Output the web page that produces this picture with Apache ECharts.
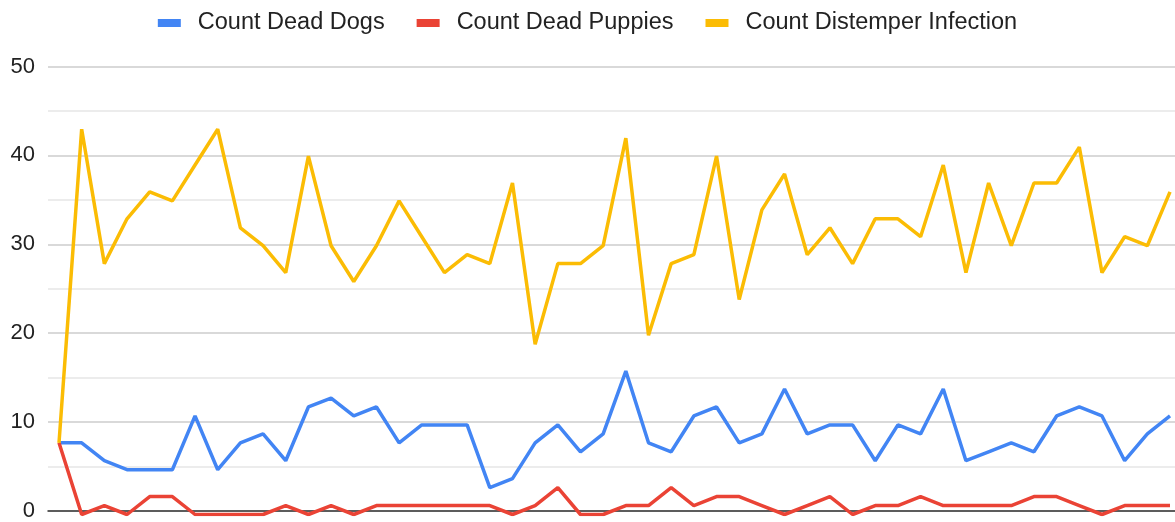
<!DOCTYPE html>
<html>
<head>
<meta charset="utf-8">
<script src="https://cdn.jsdelivr.net/npm/echarts@6/dist/echarts.min.js"></script>
<style>
html,body{margin:0;padding:0;background:#fff;}
#chart{width:1175px;height:522px;}
</style>
</head>
<body>
<div id="chart"></div>
<script>
const categories = ['1','2','3','4','5','6','7','8','9','10','11','12','13','14','15','16','17','18','19','20','21','22','23','24','25','26','27','28','29','30','31','32','33','34','35','36','37','38','39','40','41','42','43','44','45','46','47','48','49','50'];
const deadDogs = [8,8,6,5,5,5,11,5,8,9,6,12,13,11,12,8,10,10,10,3,4,8,10,7,9,16,8,7,11,12,8,9,14,9,10,10,6,10,9,14,6,7,8,7,11,12,11,6,9,11];
const deadPuppies = [8,0,1,0,2,2,0,0,0,0,1,0,1,0,1,1,1,1,1,1,0,1,3,0,0,1,1,3,1,2,2,1,0,1,2,0,1,1,2,1,1,1,1,2,2,1,0,1,1,1];
const distemper = [8,43,28,33,36,35,39,43,32,30,27,40,30,26,30,35,31,27,29,28,37,19,28,28,30,42,20,28,29,40,24,34,38,29,32,28,33,33,31,39,27,37,30,37,37,41,27,31,30,36];
const seriesNames = ['Count Dead Dogs','Count Dead Puppies','Count Distemper Infection'];
const seriesColors = ['#4285F4','#EA4335','#FBBC04'];
const yTicks = {min:0, max:50, interval:10};

const fontFam = "'Liberation Sans', Arial, sans-serif";
const chart = echarts.init(document.getElementById('chart'));
const dataSets = [deadDogs, deadPuppies, distemper];
chart.setOption({
  animation:false,
  color: seriesColors,
  legend:{
    top:6, left:'center',
    icon:'rect', itemWidth:23, itemHeight:8, itemGap:32,
    textStyle:{fontSize:23.5, color:'#222', fontFamily:fontFam, padding:[0,0,0,12]},
    data: seriesNames
  },
  grid:[
    {left:48, right:0, top:66.5, bottom:7.5},
    {left:59, right:5, top:66.5, bottom:7.5}
  ],
  xAxis:[
    {gridIndex:0, type:'value', min:0, max:1, axisLabel:{show:false}, axisTick:{show:false}, splitLine:{show:false},
     axisLine:{show:true, lineStyle:{color:'#333', width:1.5}}},
    {gridIndex:1, type:'category', data:categories, boundaryGap:false, show:false}
  ],
  yAxis:[
    {gridIndex:0, type:'value', min:yTicks.min, max:yTicks.max, interval:yTicks.interval,
     axisLine:{show:false}, axisTick:{show:false},
     axisLabel:{fontSize:22, color:'#222', fontFamily:fontFam, margin:13},
     splitLine:{show:true, lineStyle:{color:'#cccccc', width:1.5}},
     minorTick:{show:false, splitNumber:2},
     minorSplitLine:{show:true, lineStyle:{color:'#e6e6e6', width:1.5}}},
    {gridIndex:1, type:'value', min:yTicks.min, max:yTicks.max, show:false, splitLine:{show:false}}
  ],
  series: seriesNames.map((n,i)=>({
    name:n, type:'line', xAxisIndex:1, yAxisIndex:1,
    data:dataSets[i], symbol:'none', showSymbol:false,
    lineStyle:{width:3.5, color:seriesColors[i]},
    itemStyle:{color:seriesColors[i]}
  }))
});
</script>
</body>
</html>
